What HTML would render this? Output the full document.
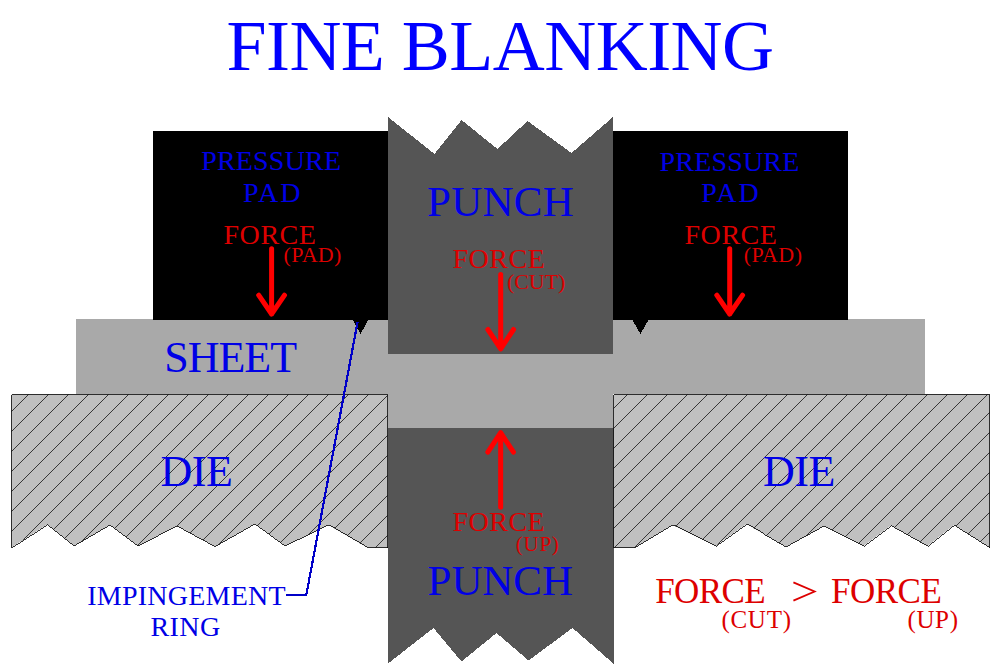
<!DOCTYPE html><html><head><meta charset="utf-8"><style>html,body{margin:0;padding:0;background:#fff;overflow:hidden}svg{display:block}</style></head><body><svg width="1000" height="670" viewBox="0 0 1000 670" font-family="Liberation Serif">
<defs>
<clipPath id="cl"><polygon points="11.5,394.5 387.5,394.5 387.5,547.5 367,547.5 328.5,525 285,546 255,524 215,546.6 177,526 138,546 110,525 74,546 47.3,524.5 11.5,547.5"/></clipPath>
<clipPath id="cr"><polygon points="613.5,394.5 989.5,394.5 989.5,547.5 954,525 927.5,546 891,525.5 863.5,546 824,526 786,547 746.5,524 715.5,546 672.5,525 635,547.5 613.5,547.5"/></clipPath>
</defs>
<rect width="1000" height="670" fill="#fff"/>

<rect x="76" y="319" width="849" height="75" fill="#a9a9a9"/>
<rect x="388" y="354" width="225" height="74" fill="#a9a9a9"/>
<rect x="153" y="131" width="235" height="189" fill="#000"/>
<rect x="613" y="131" width="235" height="189" fill="#000"/>
<polygon points="352.8,320 368.3,320 360.5,334" fill="#000" shape-rendering="crispEdges"/>
<polygon points="632.4,320 648.4,320 640.4,334" fill="#000" shape-rendering="crispEdges"/>
<polygon points="388,354 388,117 434.5,154 461.5,120 497.5,149 527.5,121 571.5,153 613,117 613,354" fill="#555555" shape-rendering="crispEdges"/>
<polygon points="388,428 614,428 614,664 572.5,628 528.5,660.5 496.5,633 461.5,661.5 433.5,628 388,663.5" fill="#555555" shape-rendering="crispEdges"/>
<polygon points="11.5,394.5 387.5,394.5 387.5,547.5 367,547.5 328.5,525 285,546 255,524 215,546.6 177,526 138,546 110,525 74,546 47.3,524.5 11.5,547.5" fill="#c0c0c0"/>
<path d="M-10.5,393.5L-165.5,548.5M9.5,393.5L-145.5,548.5M29.5,393.5L-125.5,548.5M49.5,393.5L-105.5,548.5M69.5,393.5L-85.5,548.5M89.5,393.5L-65.5,548.5M109.5,393.5L-45.5,548.5M129.5,393.5L-25.5,548.5M149.5,393.5L-5.5,548.5M169.5,393.5L14.5,548.5M189.5,393.5L34.5,548.5M209.5,393.5L54.5,548.5M229.5,393.5L74.5,548.5M249.5,393.5L94.5,548.5M269.5,393.5L114.5,548.5M289.5,393.5L134.5,548.5M309.5,393.5L154.5,548.5M329.5,393.5L174.5,548.5M349.5,393.5L194.5,548.5M369.5,393.5L214.5,548.5M389.5,393.5L234.5,548.5M409.5,393.5L254.5,548.5M429.5,393.5L274.5,548.5M449.5,393.5L294.5,548.5M469.5,393.5L314.5,548.5M489.5,393.5L334.5,548.5M509.5,393.5L354.5,548.5M529.5,393.5L374.5,548.5M549.5,393.5L394.5,548.5" stroke="#000" stroke-width="0.72" shape-rendering="crispEdges" clip-path="url(#cl)" fill="none"/>
<polygon points="11.5,394.5 387.5,394.5 387.5,547.5 367,547.5 328.5,525 285,546 255,524 215,546.6 177,526 138,546 110,525 74,546 47.3,524.5 11.5,547.5" fill="none" stroke="#000" stroke-width="0.8" shape-rendering="crispEdges"/>
<polygon points="613.5,394.5 989.5,394.5 989.5,547.5 954,525 927.5,546 891,525.5 863.5,546 824,526 786,547 746.5,524 715.5,546 672.5,525 635,547.5 613.5,547.5" fill="#c0c0c0"/>
<path d="M588.5,393.5L433.5,548.5M608.5,393.5L453.5,548.5M628.5,393.5L473.5,548.5M648.5,393.5L493.5,548.5M668.5,393.5L513.5,548.5M688.5,393.5L533.5,548.5M708.5,393.5L553.5,548.5M728.5,393.5L573.5,548.5M748.5,393.5L593.5,548.5M768.5,393.5L613.5,548.5M788.5,393.5L633.5,548.5M808.5,393.5L653.5,548.5M828.5,393.5L673.5,548.5M848.5,393.5L693.5,548.5M868.5,393.5L713.5,548.5M888.5,393.5L733.5,548.5M908.5,393.5L753.5,548.5M928.5,393.5L773.5,548.5M948.5,393.5L793.5,548.5M968.5,393.5L813.5,548.5M988.5,393.5L833.5,548.5M1008.5,393.5L853.5,548.5M1028.5,393.5L873.5,548.5M1048.5,393.5L893.5,548.5M1068.5,393.5L913.5,548.5M1088.5,393.5L933.5,548.5M1108.5,393.5L953.5,548.5M1128.5,393.5L973.5,548.5M1148.5,393.5L993.5,548.5" stroke="#000" stroke-width="0.72" shape-rendering="crispEdges" clip-path="url(#cr)" fill="none"/>
<polygon points="613.5,394.5 989.5,394.5 989.5,547.5 954,525 927.5,546 891,525.5 863.5,546 824,526 786,547 746.5,524 715.5,546 672.5,525 635,547.5 613.5,547.5" fill="none" stroke="#000" stroke-width="0.8" shape-rendering="crispEdges"/>
<text x="226.41" y="69.8" font-size="72" fill="#0000ff" textLength="547.66" lengthAdjust="spacing">FINE BLANKING</text>
<text x="201.14" y="170.0" font-size="28" fill="#0000e6" textLength="139.9" lengthAdjust="spacing">PRESSURE</text>
<text x="243.03" y="201.7" font-size="28" fill="#0000e6" textLength="57.54" lengthAdjust="spacing">PAD</text>
<text x="223.45" y="244.0" font-size="28" fill="#dd0000" textLength="92.53" lengthAdjust="spacing">FORCE</text>
<text x="283.55" y="262.0" font-size="22" fill="#dd0000" textLength="57.83" lengthAdjust="spacing">(PAD)</text>
<text x="659.56" y="170.6" font-size="28" fill="#0000e6" textLength="139.78" lengthAdjust="spacing">PRESSURE</text>
<text x="701.32" y="201.7" font-size="28" fill="#0000e6" textLength="57.41" lengthAdjust="spacing">PAD</text>
<text x="684.45" y="244.0" font-size="28" fill="#dd0000" textLength="92.53" lengthAdjust="spacing">FORCE</text>
<text x="743.75" y="262.0" font-size="22" fill="#dd0000" textLength="58.22" lengthAdjust="spacing">(PAD)</text>
<text x="427.05" y="215.6" font-size="43" fill="#0000e6" textLength="146.64" lengthAdjust="spacing">PUNCH</text>
<text x="452.45" y="267.6" font-size="28" fill="#dd0000" textLength="92.44" lengthAdjust="spacing">FORCE</text>
<text x="506.98" y="288.8" font-size="22" fill="#dd0000" textLength="58.44" lengthAdjust="spacing">(CUT)</text>
<text x="164.34" y="372.0" font-size="44" fill="#0000e6" textLength="132.71" lengthAdjust="spacing">SHEET</text>
<text x="160.44" y="485.5" font-size="44" fill="#0000e6" textLength="72.35" lengthAdjust="spacing">DIE</text>
<text x="762.98" y="485.5" font-size="44" fill="#0000e6" textLength="72.44" lengthAdjust="spacing">DIE</text>
<text x="452.53" y="531.0" font-size="28" fill="#dd0000" textLength="92.19" lengthAdjust="spacing">FORCE</text>
<text x="515.7" y="551.0" font-size="21" fill="#dd0000" textLength="43.12" lengthAdjust="spacing">(UP)</text>
<text x="427.55" y="594.5" font-size="43" fill="#0000e6" textLength="145.47" lengthAdjust="spacing">PUNCH</text>
<text x="87.32" y="605.4" font-size="28" fill="#0000e6" textLength="198.2" lengthAdjust="spacing">IMPINGEMENT</text>
<text x="150.5" y="636.2" font-size="28" fill="#0000e6" textLength="69.68" lengthAdjust="spacing">RING</text>
<text x="655.18" y="603.3" font-size="35" fill="#dd0000" textLength="110.48" lengthAdjust="spacing">FORCE</text>
<text x="721.44" y="628.0" font-size="25" fill="#dd0000" textLength="69.52" lengthAdjust="spacing">(CUT)</text>
<text x="830.9" y="603.3" font-size="35" fill="#dd0000" textLength="110.93" lengthAdjust="spacing">FORCE</text>
<text x="907.44" y="627.5" font-size="25" fill="#dd0000" textLength="50.53" lengthAdjust="spacing">(UP)</text>
<path d="M793.4,582.3L814.6,591.5L793.4,600.7" stroke="#dd0000" stroke-width="1.8" fill="none"/>
<path d="M271.6,248.8L271.6,314M258.70000000000005,295.2L271.6,314L284.5,295.2" stroke="#ff0000" stroke-width="5" fill="none" stroke-linecap="round" stroke-linejoin="round"/>
<path d="M729.7,248.8L729.7,314M716.8000000000001,295.2L729.7,314L742.6,295.2" stroke="#ff0000" stroke-width="5" fill="none" stroke-linecap="round" stroke-linejoin="round"/>
<path d="M500.7,274.4L500.7,348.8M487.84999999999997,329.5L500.7,348.8L513.55,329.5" stroke="#ff0000" stroke-width="5" fill="none" stroke-linecap="round" stroke-linejoin="round"/>
<path d="M500.65,507.3L500.65,432.7M487.84999999999997,452.2L500.65,432.7L513.4499999999999,452.2" stroke="#ff0000" stroke-width="5" fill="none" stroke-linecap="round" stroke-linejoin="round"/>
<path d="M357.6,322L306.3,595L286,595" stroke="#0000c8" stroke-width="2.2" fill="none" shape-rendering="crispEdges"/>
</svg></body></html>
